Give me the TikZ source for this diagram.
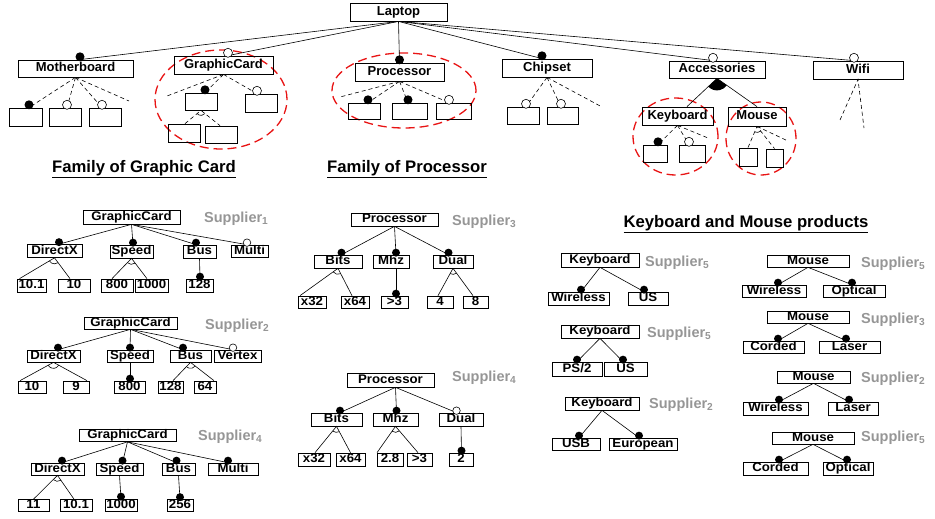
\documentclass[tikz,border=0pt]{standalone}
\usepackage{fontspec}
\setmainfont{Liberation Sans}
\newfontfamily\lblfont{Liberation Sans}[FakeStretch=1.06]
\usetikzlibrary{calc}
\definecolor{supgray}{RGB}{150,150,150}
\definecolor{redd}{RGB}{232,20,20}
\tikzset{
 box/.style={draw, line width=0.7pt, inner sep=0pt, font=\lblfont\bfseries\fontsize{12.5}{13}\selectfont, text height=9pt, text depth=2.5pt},
 tbox/.style={draw, line width=0.8pt, inner sep=0pt, font=\bfseries\fontsize{13}{14}\selectfont, text height=9.5pt, text depth=3pt},
 ebox/.style={draw, line width=0.8pt, inner sep=0pt},
 edge/.style={line width=0.6pt},
 dedge/.style={line width=0.6pt, dash pattern=on 4pt off 3pt},
 fdot/.style={circle, solid, fill=black, inner sep=0pt, minimum size=8pt, anchor=center, yshift=2pt},
 odot/.style={circle, solid, draw, fill=white, line width=0.6pt, inner sep=0pt, minimum size=7.5pt, anchor=center, yshift=2pt},
 big/.style={minimum size=9pt, yshift=0.8pt},
 redell/.style={draw=redd, line width=1.3pt, dash pattern=on 9pt off 5pt},
 sup/.style={text=supgray, font=\bfseries\fontsize{14.5}{16}\selectfont, anchor=west, inner sep=0pt},
 head/.style={font=\bfseries\fontsize{16.7}{18}\selectfont, inner sep=0pt},
}
\newcommand\B[6]{\node[box, minimum width=#4pt, minimum height=#5pt] (#1) at (#2,#3) {#6};}
\newcommand\T[6]{\node[tbox, minimum width=#4pt, minimum height=#5pt] (#1) at (#2,#3) {#6};}
\newcommand\E[5]{\node[ebox, minimum width=#4pt, minimum height=#5pt] (#1) at (#2,#3) {};}
% solid mandatory / optional
\newcommand\mandE[4][]{\draw[edge] (#2) -- ([xshift=#4pt]#3.north) node[fdot,#1]{};}
\newcommand\optE[4][]{\draw[edge] (#2) -- ([xshift=#4pt]#3.north) node[odot,#1]{};}
% dashed
\newcommand\dmand[4][]{\draw[dedge] (#2) -- ([xshift=#4pt]#3.north) node[fdot,#1]{};}
\newcommand\dopt[4][]{\draw[dedge] (#2) -- ([xshift=#4pt]#3.north) node[odot,#1]{};}
% alternative arc: radius, parent, child point 1, child point 2
\newcommand\altarc[4][6pt]{\draw[edge] let \p1=($(#3)-(#2)$), \p2=($(#4)-(#2)$), \n1={atan2(\y1,\x1)}, \n2={atan2(\y2,\x2)} in ($(#2)+(\n1:#1)$) arc[start angle=\n1, end angle=\n2, radius=#1];}
\newcommand\orarc[4][12pt]{\fill let \p1=($(#3)-(#2)$), \p2=($(#4)-(#2)$), \n1={atan2(\y1,\x1)}, \n2={atan2(\y2,\x2)} in (#2) -- ($(#2)+(\n1:#1)$) arc[start angle=\n1, end angle=\n2, radius=#1] -- cycle;}
% alt group with solid lines
\newcommand\altgrp[7]{% parent, c1name, child1, shift1, c2name, child2, shift2
 \coordinate (#2) at ([xshift=#4pt]#3.north);
 \coordinate (#5) at ([xshift=#7pt]#6.north);
 \draw[edge] (#2) -- (#1) -- (#5);
 \altarc{#1}{#2}{#5}}

\begin{document}
\begin{tikzpicture}[x=1pt,y=-1pt]
\useasboundingbox (0,0) rectangle (935,519);

% ---------------- top feature model ----------------
\draw[redell] (221,99.5) ellipse [x radius=66pt, y radius=49.5pt];
\draw[redell] (404,90.5) ellipse [x radius=72pt, y radius=37.5pt];
\draw[redell] (675.5,136.5) ellipse [x radius=42.5pt, y radius=38.5pt];
\draw[redell] (761,138.5) ellipse [x radius=35pt, y radius=36.5pt];

\T{lap}{398.5}{12}{97}{18}{Laptop}
\T{mb}{75.5}{68.5}{115}{17}{Motherboard}
\T{gc}{223.5}{65}{99}{18}{GraphicCard}
\T{pr}{399.5}{72}{89}{18}{Processor}
\T{cs}{547}{68}{90}{18}{Chipset}
\T{acc}{717}{69.5}{96}{17}{Accessories}
\T{wifi}{858}{70}{90}{18}{Wifi}
\T{kb}{677.5}{116}{71}{18}{Keyboard}
\T{ms}{757}{116.5}{58}{19}{Mouse}

\mandE[big]{lap.south}{mb}{4.5}
\optE[big]{lap.south}{gc}{4.5}
\mandE[big]{lap.south}{pr}{0}
\mandE[big]{lap.south}{cs}{-5}
\optE[big]{lap.south}{acc}{-4}
\optE[big]{lap.south}{wifi}{-4}

% Motherboard
\E{mb1}{25.5}{117}{33}{18}
\E{mb2}{65.5}{117}{32}{18}
\E{mb3}{105}{117}{32}{18}
\coordinate (mbf) at (129,101);
\dmand[big]{mb.south}{mb1}{3.5}
\dopt[big]{mb.south}{mb2}{1.5}
\dopt[big]{mb.south}{mb3}{-3}
\draw[dedge] (mb.south) -- (mbf);

% GraphicCard
\E{gc1}{201}{101.5}{32}{17}
\E{gc2}{261}{103}{32}{18}
\E{gc3}{184}{133}{32}{18}
\E{gc4}{221}{134.5}{32}{17}
\coordinate (gcf) at (167,96);
\draw[dedge] (gc.south) -- (gcf);
\dmand[big]{gc.south}{gc1}{4}
\dopt[big]{gc.south}{gc2}{-4}
\coordinate (gca1) at ([xshift=1pt]gc3.north);
\coordinate (gca2) at ([xshift=-1pt]gc4.north);
\draw[dedge] (gca1) -- (gc1.south) -- (gca2);
\altarc[5pt]{gc1.south}{gca1}{gca2}

% Processor
\E{pr1}{364}{111}{32}{16}
\E{pr2}{409.5}{111}{35}{16}
\E{pr3}{453.5}{111}{35}{16}
\coordinate (prf) at (340,97);
\draw[dedge] (pr.south) -- (prf);
\dmand[big]{pr.south}{pr1}{4}
\dmand[big]{pr.south}{pr2}{-1.5}
\dopt[big]{pr.south}{pr3}{-4.5}

% Chipset
\E{cs1}{523}{115.5}{32}{17}
\E{cs2}{562.5}{115.5}{31}{17}
\coordinate (csf) at (602,107);
\dopt[big]{cs.south}{cs1}{3}
\dopt[big]{cs.south}{cs2}{-1.5}
\draw[dedge] (cs.south) -- (csf);

% Accessories (or group)
\coordinate (acck) at ([xshift=9.5pt]kb.north);
\coordinate (accm) at (ms.north);
\draw[edge] (acck) -- (acc.south) -- (accm);
\orarc[12pt]{acc.south}{acck}{accm}

% Keyboard
\E{kb1}{655}{153.5}{24}{17}
\E{kb2}{692}{153.5}{26}{17}
\coordinate (kbf) at (708,138);
\dmand[big]{kb.south}{kb1}{3}
\dopt[big]{kb.south}{kb2}{-3}
\draw[dedge] (kb.south) -- (kbf);

% Mouse
\E{ms1}{748}{157}{18}{18}
\E{ms2}{774.5}{158}{17}{18}
\coordinate (msf) at (788,141);
\draw[dedge] (ms1.north) -- (ms.south) -- (ms2.north);
\draw[dedge] (ms.south) -- (msf);
\altarc[6pt]{ms.south}{ms1.north}{ms2.north}

% Wifi
\coordinate (wf1) at (840,120);
\coordinate (wf2) at (864,128);
\draw[dedge] (wf1) -- (wifi.south) -- (wf2);

% headings
\node[head] (h1) at (144,169) {\underline{Family of Graphic Card}};
\node[head] (h2) at (407,169) {\underline{Family of Processor}};
\node[head] (h3) at (746,224) {\underline{Keyboard and Mouse products}};

% ---------------- GraphicCard Supplier1 ----------------
\B{gA}{131.5}{217}{97}{14}{GraphicCard}
\B{gAd}{54.5}{251}{55}{13}{DirectX}
\B{gAs}{131.5}{251.5}{43}{13}{Speed}
\B{gAb}{199.5}{251.5}{33}{13}{Bus}
\B{gAm}{249.5}{251}{37}{12}{Multi}
\B{gAv1}{31.5}{285.5}{29}{13}{10.1}
\B{gAv2}{74}{285.5}{32}{13}{10}
\B{gAv3}{117}{285.5}{32}{13}{800}
\B{gAv4}{151.5}{285.5}{33}{13}{1000}
\B{gAv5}{199.5}{285.5}{27}{13}{128}
\node[sup] (sA) at (204,219) {Supplier\textsubscript{1}};
\mandE{gA.south}{gAd}{4.5}
\mandE{gA.south}{gAs}{1.5}
\mandE{gA.south}{gAb}{-3.5}
\optE{gA.south}{gAm}{-2.5}
\mandE{gAb.south}{gAv5}{0.5}
\altgrp{gAd.south}{gAa1}{gAv1}{-12}{gAa2}{gAv2}{-4}
\altgrp{gAs.south}{gAa3}{gAv3}{-5}{gAa4}{gAv4}{-4.5}

% ---------------- GraphicCard Supplier2 ----------------
\B{gB}{130.5}{323}{93}{12}{GraphicCard}
\B{gBd}{53.5}{356}{53}{12}{DirectX}
\B{gBs}{130}{356}{46}{12}{Speed}
\B{gBb}{190.5}{356}{41}{12}{Bus}
\B{gBv}{237.5}{356}{47}{12}{Vertex}
\B{gBv1}{32}{387}{28}{12}{10}
\B{gBv2}{76}{387}{26}{12}{9}
\B{gBv3}{129.5}{387}{31}{12}{800}
\B{gBv4}{170.5}{387}{25}{12}{128}
\B{gBv5}{205}{387}{22}{12}{64}
\node[sup] (sB) at (205,326) {Supplier\textsubscript{2}};
\mandE{gB.south}{gBd}{4.5}
\mandE{gB.south}{gBs}{0}
\mandE{gB.south}{gBb}{-7.5}
\optE{gB.south}{gBv}{-4.5}
\mandE{gBs.south}{gBv3}{0.5}
\altgrp{gBd.south}{gBa1}{gBv1}{-12}{gBa2}{gBv2}{11}
\altgrp{gBb.south}{gBa3}{gBv4}{2.5}{gBa4}{gBv5}{9}

% ---------------- GraphicCard Supplier4 ----------------
\B{gC}{127.5}{435.5}{97}{12}{GraphicCard}
\B{gCd}{57.5}{469}{53}{12}{DirectX}
\B{gCs}{119.5}{469}{47}{12}{Speed}
\B{gCb}{178.5}{469}{33}{12}{Bus}
\B{gCm}{233}{469}{50}{12}{Multi}
\B{gCv1}{33.5}{505.5}{31}{12}{11}
\B{gCv2}{76}{505.5}{32}{12}{10.1}
\B{gCv3}{121}{505}{32}{12}{1000}
\B{gCv4}{180}{505.5}{26}{12}{256}
\node[sup] (sC) at (198,437) {Supplier\textsubscript{4}};
\mandE{gC.south}{gCd}{4.5}
\mandE{gC.south}{gCs}{3}
\mandE{gC.south}{gCb}{-2}
\mandE{gC.south}{gCm}{-5}
\mandE{gCs.south}{gCv3}{0}
\mandE{gCb.south}{gCv4}{0}
\altgrp{gCd.south}{gCa1}{gCv1}{0}{gCa2}{gCv2}{-2}

% ---------------- Processor Supplier3 ----------------
\B{pA}{394.5}{219.5}{87}{13}{Processor}
\B{pAb}{338}{261.5}{48}{13}{Bits}
\B{pAm}{391}{261.5}{36}{13}{Mhz}
\B{pAd}{453}{261.5}{40}{13}{Dual}
\B{pAv1}{312}{302}{28}{12}{x32}
\B{pAv2}{355}{302}{28}{12}{x64}
\B{pAv3}{394.5}{302}{27}{12}{>3}
\B{pAv4}{440}{302}{26}{12}{4}
\B{pAv5}{475.5}{302}{25}{12}{8}
\node[sup] (sD) at (452,222) {Supplier\textsubscript{3}};
\mandE{pA.south}{pAb}{3.5}
\mandE{pA.south}{pAm}{5}
\mandE{pA.south}{pAd}{-4.5}
\mandE{[xshift=5pt]pAm.south}{pAv3}{1.5}
\altgrp{pAb.south}{pAa1}{pAv1}{-12}{pAa2}{pAv2}{-3}
\altgrp{pAd.south}{pAa3}{pAv4}{-2}{pAa4}{pAv5}{-2.5}

% ---------------- Processor Supplier4 ----------------
\B{pB}{390.5}{380}{87}{14}{Processor}
\B{pBb}{336.5}{419.5}{51}{13}{Bits}
\B{pBm}{395.5}{419.5}{45}{13}{Mhz}
\B{pBd}{461}{419.5}{44}{13}{Dual}
\B{pBv1}{314}{459.5}{32}{13}{x32}
\B{pBv2}{350.5}{459.5}{29}{13}{x64}
\B{pBv3}{390}{459.5}{26}{13}{2.8}
\B{pBv4}{419.5}{459.5}{25}{13}{>3}
\B{pBv5}{461}{459.5}{24}{13}{2}
\node[sup] (sE) at (452,378) {Supplier\textsubscript{4}};
\mandE{[xshift=5pt]pB.south}{pBb}{3.5}
\mandE{[xshift=5pt]pB.south}{pBm}{1}
\optE{[xshift=5pt]pB.south}{pBd}{-4.5}
\mandE{pBd.south}{pBv5}{0.5}
\altgrp{pBb.south}{pBa1}{pBv1}{1}{pBa2}{pBv2}{0}
\altgrp{pBm.south}{pBa3}{pBv3}{-13}{pBa4}{pBv4}{-1.5}

% ---------------- Keyboards ----------------
\B{kA}{600}{260}{78}{14}{Keyboard}
\B{kA1}{578.5}{298.5}{61}{13}{Wireless}
\B{kA2}{648}{298.5}{40}{13}{US}
\node[sup] (sF) at (645,263) {Supplier\textsubscript{5}};
\mandE{kA.south}{kA1}{2.5}
\mandE{kA.south}{kA2}{-4}

\B{kB}{600}{331.5}{78}{13}{Keyboard}
\B{kB1}{577}{369}{50}{14}{PS/2}
\B{kB2}{625.5}{369}{43}{14}{US}
\node[sup] (sG) at (647,334) {Supplier\textsubscript{5}};
\mandE{kB.south}{kB1}{0}
\mandE{kB.south}{kB2}{-2.5}

\B{kC}{602}{403.5}{74}{13}{Keyboard}
\B{kC1}{576}{444}{48}{12}{USB}
\B{kC2}{643}{444}{68}{12}{European}
\node[sup] (sH) at (649,405) {Supplier\textsubscript{2}};
\mandE{kC.south}{kC1}{3}
\mandE{kC.south}{kC2}{-4}

% ---------------- Mice ----------------
\B{mA}{808}{261}{82}{12}{Mouse}
\B{mA1}{774}{291}{64}{12}{Wireless}
\B{mA2}{854}{291}{62}{12}{Optical}
\node[sup] (sI) at (861,264) {Supplier\textsubscript{5}};
\mandE{mA.south}{mA1}{4}
\mandE{mA.south}{mA2}{-2}

\B{mB}{808}{317}{82}{12}{Mouse}
\B{mB1}{773.5}{347}{61}{12}{Corded}
\B{mB2}{849.5}{347}{61}{12}{Laser}
\node[sup] (sJ) at (861,320) {Supplier\textsubscript{3}};
\mandE{mB.south}{mB1}{4.5}
\mandE{mB.south}{mB2}{-3.5}

\B{mC}{813.5}{377}{73}{12}{Mouse}
\B{mC1}{775.5}{408.5}{65}{13}{Wireless}
\B{mC2}{853}{408.5}{50}{13}{Laser}
\node[sup] (sK) at (861,379) {Supplier\textsubscript{2}};
\mandE{mC.south}{mC1}{3.5}
\mandE{mC.south}{mC2}{-4}

\B{mD}{813}{438}{82}{12}{Mouse}
\B{mD1}{775.5}{468.5}{65}{13}{Corded}
\B{mD2}{848}{468.5}{50}{13}{Optical}
\node[sup] (sL) at (861,438) {Supplier\textsubscript{5}};
\mandE{mD.south}{mD1}{3.5}
\mandE{mD.south}{mD2}{-1}
\end{tikzpicture}
\end{document}
